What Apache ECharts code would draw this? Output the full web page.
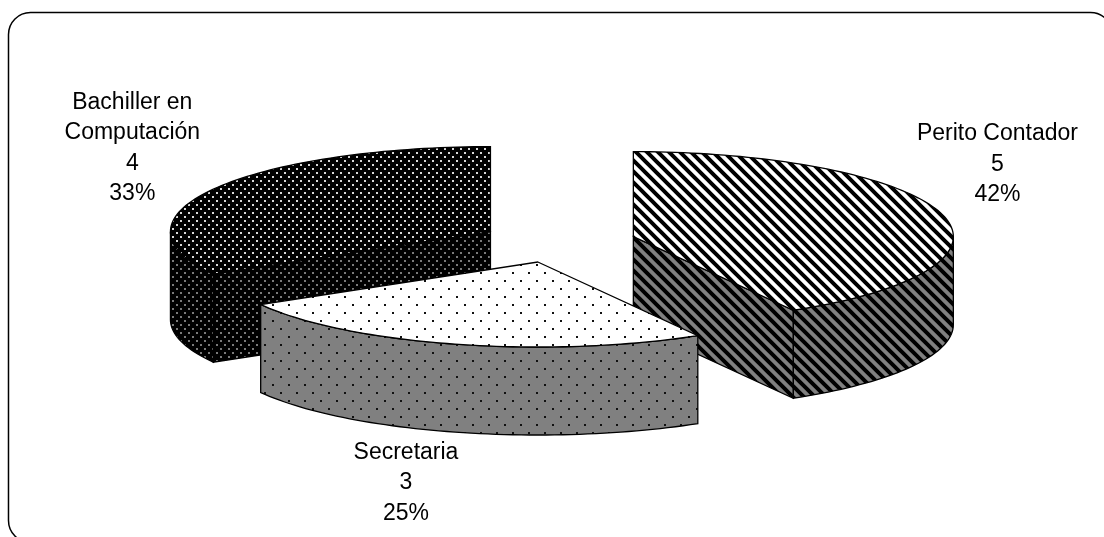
<!DOCTYPE html>
<html>
<head>
<meta charset="utf-8">
<script src="https://cdn.jsdelivr.net/npm/echarts@6/dist/echarts.min.js"></script>
<style>
  html, body { margin: 0; padding: 0; background: #fff; }
  #chart { width: 1104px; height: 537px; }
</style>
</head>
<body>
<div id="chart"></div>
<script>
// Students by program (count of graduates)
const categories = ['Perito Contador', 'Secretaria', 'Bachiller en\nComputación'];
const values = [5, 3, 4];

// ---- fill patterns -------------------------------------------------------
function makeTile(w, h, bg, draw) {
  const c = document.createElement('canvas');
  c.width = w; c.height = h;
  const g = c.getContext('2d');
  g.fillStyle = bg; g.fillRect(0, 0, w, h);
  draw(g);
  return c;
}
function stripeTile(bg) {
  const s = 11;
  return makeTile(s, s, bg, g => {
    g.strokeStyle = '#000'; g.lineWidth = 4;
    g.beginPath();
    g.moveTo(-s, -s); g.lineTo(2 * s, 2 * s);
    g.moveTo(-s, 0);  g.lineTo(s, 2 * s);
    g.moveTo(0, -s);  g.lineTo(2 * s, s);
    g.stroke();
  });
}
function dotTile(size, bg, dot, d) {
  const h = size / 2;
  return makeTile(size, size, bg, g => {
    g.fillStyle = dot;
    g.fillRect(0, 0, d, d);
    g.fillRect(h, h, d, d);
  });
}
const pat = c => ({ image: c, repeat: 'repeat' });

// top / side fills for each slice, in category order
const sliceFills = [
  { top: pat(stripeTile('#ffffff')), side: pat(stripeTile('#808080')) },
  { top: pat(dotTile(16, '#ffffff', '#111', 2)), side: pat(dotTile(16, '#808080', '#111', 2)) },
  { top: pat(dotTile(8, '#000000', '#d8d8d8', 2)), side: pat(dotTile(8, '#000000', '#7a7a7a', 2)) }
];

// ---- 3D pie geometry -----------------------------------------------------
const G = { cx: 558, cy: 242, rx: 320, ry: 85, depth: 88, explode: 78 };
const labelNudge = [[55, -50], [-49, 51], [-81, -41]];

const total = values.reduce((a, b) => a + b, 0);
const startAngles = [];
(function () { let acc = 0; values.forEach(v => { startAngles.push(acc / total * 360); acc += v; }); })();

const rad = d => d * Math.PI / 180;
function rim(cx, cy, deg, dy) {
  return [cx + G.rx * Math.sin(rad(deg)), cy - G.ry * Math.cos(rad(deg)) + (dy || 0)];
}
function arcPts(cx, cy, a, b, dy) {
  const n = Math.max(2, Math.ceil(Math.abs(b - a) / 1.5));
  const out = [];
  for (let k = 0; k <= n; k++) out.push(rim(cx, cy, a + (b - a) * k / n, dy));
  return out;
}

function renderItem(params, api) {
  const i = api.value(1);
  const v = api.value(0);
  const a0 = startAngles[i];
  const a1 = a0 + v / total * 360;
  const mid = (a0 + a1) / 2;
  const cx = G.cx + G.explode * Math.sin(rad(mid));
  const cy = G.cy - G.explode * (G.ry / G.rx) * Math.cos(rad(mid));
  const D = G.depth;
  const fills = sliceFills[i];
  const zBase = Math.round((-Math.cos(rad(mid)) + 2) * 100);
  const edge = { stroke: '#000', lineWidth: 1.3 };
  const children = [];

  const face = (points, fill, dz) => children.push({
    type: 'polygon', z2: zBase + dz,
    shape: { points },
    style: Object.assign({ fill }, edge)
  });

  // radial cut faces facing the viewer
  if (Math.sin(rad(a0)) < -1e-6) {
    const p = rim(cx, cy, a0);
    face([[cx, cy], p, [p[0], p[1] + D], [cx, cy + D]], fills.side, 1);
  }
  if (Math.sin(rad(a1)) > 1e-6) {
    const p = rim(cx, cy, a1);
    face([[cx, cy], p, [p[0], p[1] + D], [cx, cy + D]], fills.side, 1);
  }
  // outer wall on the front half of the ellipse
  const lo = Math.max(a0, 90), hi = Math.min(a1, 270);
  if (hi > lo) {
    face(arcPts(cx, cy, lo, hi, 0).concat(arcPts(cx, cy, hi, lo, D)), fills.side, 2);
  }
  // top face
  face([[cx, cy]].concat(arcPts(cx, cy, a0, a1, 0)), fills.top, 3);

  // data label
  const anchor = rim(cx, cy, mid, Math.cos(rad(mid)) < 0 ? D : 0);
  const pct = Math.round(v / total * 100);
  children.push({
    type: 'text', z2: 900,
    style: {
      x: anchor[0] + labelNudge[i][0],
      y: anchor[1] + labelNudge[i][1],
      text: categories[i] + '\n' + v + '\n' + pct + '%',
      fill: '#000',
      fontSize: 23,
      fontFamily: '"Liberation Sans", Arial, sans-serif',
      align: 'center',
      verticalAlign: 'middle',
      lineHeight: 30.5
    }
  });
  return { type: 'group', children };
}

const chart = echarts.init(document.getElementById('chart'), null, { renderer: 'canvas' });
chart.setOption({
  animation: false,
  backgroundColor: '#ffffff',
  graphic: [{
    type: 'rect', silent: true, z: 0,
    shape: { x: 8.5, y: 12.5, width: 1104, height: 530, r: 22 },
    style: { fill: 'none', stroke: '#000', lineWidth: 1.5 }
  }],
  series: [{
    type: 'custom',
    coordinateSystem: 'none',
    silent: true,
    renderItem,
    data: values.map((v, i) => [v, i])
  }]
});
</script>
</body>
</html>
